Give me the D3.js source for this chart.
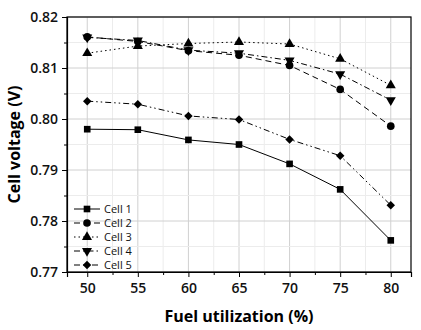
<!DOCTYPE html>
<html>
<head>
<meta charset="utf-8">
<script src="https://cdn.jsdelivr.net/npm/d3@7"></script>
<style>
  body { margin: 0; background: #fff; }
  text { font-family: "Open Sans", "Noto Sans", sans-serif; }
</style>
</head>
<body>
<div id="chart"></div>
<script>
// data
const fuelUtil = [50, 55, 60, 65, 70, 75, 80];
const cell1 = [0.7980, 0.7979, 0.7959, 0.7950, 0.7912, 0.7862, 0.7762];
const cell2 = [0.8161, 0.8152, 0.8134, 0.8125, 0.8105, 0.8058, 0.7986];
const cell3 = [0.8129, 0.8143, 0.8148, 0.8151, 0.8147, 0.8118, 0.8066];
const cell4 = [0.8160, 0.8154, 0.8135, 0.8129, 0.8115, 0.8088, 0.8037];
const cell5 = [0.8035, 0.8029, 0.8006, 0.7999, 0.7960, 0.7928, 0.7831];
const seriesNames = ["Cell 1", "Cell 2", "Cell 3", "Cell 4", "Cell 5"];
const xTicks = [50, 55, 60, 65, 70, 75, 80];
const yTicks = [0.77, 0.78, 0.79, 0.80, 0.81, 0.82];

const width = 421, height = 330;
const margin = {top: 17, right: 10, bottom: 58, left: 67};

const series = [cell1, cell2, cell3, cell4, cell5].map((vals, i) => ({
    name: seriesNames[i],
    values: vals.map((v, j) => ({x: fuelUtil[j], y: v}))
}));

const x = d3.scaleLinear().domain([48, 82]).range([margin.left, width - margin.right]);
const y = d3.scaleLinear().domain([0.77, 0.82]).range([height - margin.bottom, margin.top]);

const dashes = [null, "6,4", "1.5,3", "6,3,1.5,3", "6,3,1.5,3,1.5,3"];
const symbols = [d3.symbolSquare, d3.symbolCircle, d3.symbolTriangle, "down", d3.symbolDiamond2];
const symSize = [44, 46, 44, 44, 46];

const svg = d3.select("#chart").append("svg")
    .attr("width", width).attr("height", height);

// grid
const minorX = d3.range(47.5, 82.01, 2.5).filter(v => v > 48 && v < 82);
const minorY = d3.range(0.77, 0.8201, 0.005);
const grid = svg.append("g");
grid.selectAll("line.gx").data(minorX).join("line")
    .attr("x1", d => x(d)).attr("x2", d => x(d))
    .attr("y1", y(0.77)).attr("y2", y(0.82))
    .attr("stroke", d => Math.abs(d % 5) < 1e-6 ? "#d0d0d0" : "#ececec")
    .attr("stroke-width", 1);
grid.selectAll("line.gy").data(minorY).join("line")
    .attr("x1", x(48)).attr("x2", x(82))
    .attr("y1", d => y(d)).attr("y2", d => y(d))
    .attr("stroke", (d, i) => i % 2 === 0 ? "#d0d0d0" : "#ececec")
    .attr("stroke-width", 1);

// frame
svg.append("rect")
    .attr("x", x(48)).attr("y", y(0.82))
    .attr("width", x(82) - x(48)).attr("height", y(0.77) - y(0.82))
    .attr("fill", "none").attr("stroke", "#000").attr("stroke-width", 1.2);

// axes
svg.append("g").attr("transform", `translate(0,${y(0.77)})`)
    .call(d3.axisBottom(x).tickValues(xTicks).tickSize(5).tickPadding(6).tickFormat(d3.format("d")));
svg.append("g").attr("transform", `translate(0,${y(0.77)})`)
    .call(d3.axisBottom(x).tickValues(minorX.filter(v => v % 5 !== 0)).tickSize(3).tickFormat(""))
    .call(g => g.select(".domain").remove());
svg.append("g").attr("transform", `translate(${x(48)},0)`)
    .call(d3.axisLeft(y).tickValues(yTicks).tickSize(5).tickPadding(4).tickFormat(d3.format(".2f")));
svg.append("g").attr("transform", `translate(${x(48)},0)`)
    .call(d3.axisLeft(y).tickValues(minorY.filter((v, i) => i % 2 === 1)).tickSize(3).tickFormat(""))
    .call(g => g.select(".domain").remove());
svg.selectAll(".tick text").attr("font-size", 14).attr("font-weight", 600).attr("fill", "#111");
svg.selectAll(".domain").attr("stroke-width", 1.2);

// axis titles
svg.append("text")
    .attr("x", (x(48) + x(82)) / 2).attr("y", 322)
    .attr("text-anchor", "middle")
    .attr("font-size", 16).attr("font-weight", 700)
    .text("Fuel utilization (%)");
svg.append("text")
    .attr("transform", `translate(20,${(y(0.77) + y(0.82)) / 2}) rotate(-90)`)
    .attr("text-anchor", "middle")
    .attr("font-size", 16).attr("font-weight", 700)
    .text("Cell voltage (V)");

const marker = (sel, i) => {
    if (symbols[i] === "down") {
        sel.attr("d", d3.symbol(d3.symbolTriangle, symSize[i])())
            .attr("transform", function() { return d3.select(this).attr("transform") + " rotate(180)"; });
    } else {
        sel.attr("d", d3.symbol(symbols[i], symSize[i])());
    }
};

// lines + markers
const line = d3.line().x(d => x(d.x)).y(d => y(d.y));
series.forEach((s, i) => {
    const g = svg.append("g");
    g.append("path").datum(s.values)
        .attr("d", line)
        .attr("fill", "none").attr("stroke", "#000").attr("stroke-width", 1)
        .attr("stroke-dasharray", dashes[i]);
    g.selectAll("path.pt").data(s.values).join("path")
        .attr("class", "pt")
        .attr("transform", d => `translate(${x(d.x)},${y(d.y)})`)
        .attr("fill", "#000")
        .call(sel => marker(sel, i));
});

// legend
const legend = svg.append("g").attr("transform", `translate(74,209)`);
series.forEach((s, i) => {
    const row = legend.append("g").attr("transform", `translate(0,${i * 14})`);
    row.append("line").attr("x1", 0).attr("x2", 26).attr("y1", 0).attr("y2", 0)
        .attr("stroke", "#000").attr("stroke-width", 1).attr("stroke-dasharray", dashes[i]);
    row.append("path").attr("transform", "translate(13,0)").attr("fill", "#000")
        .call(sel => marker(sel, i));
    row.append("text").attr("x", 30).attr("y", 4)
        .attr("font-size", 11).attr("fill", "#111")
        .text(s.name);
});
</script>
</body>
</html>
